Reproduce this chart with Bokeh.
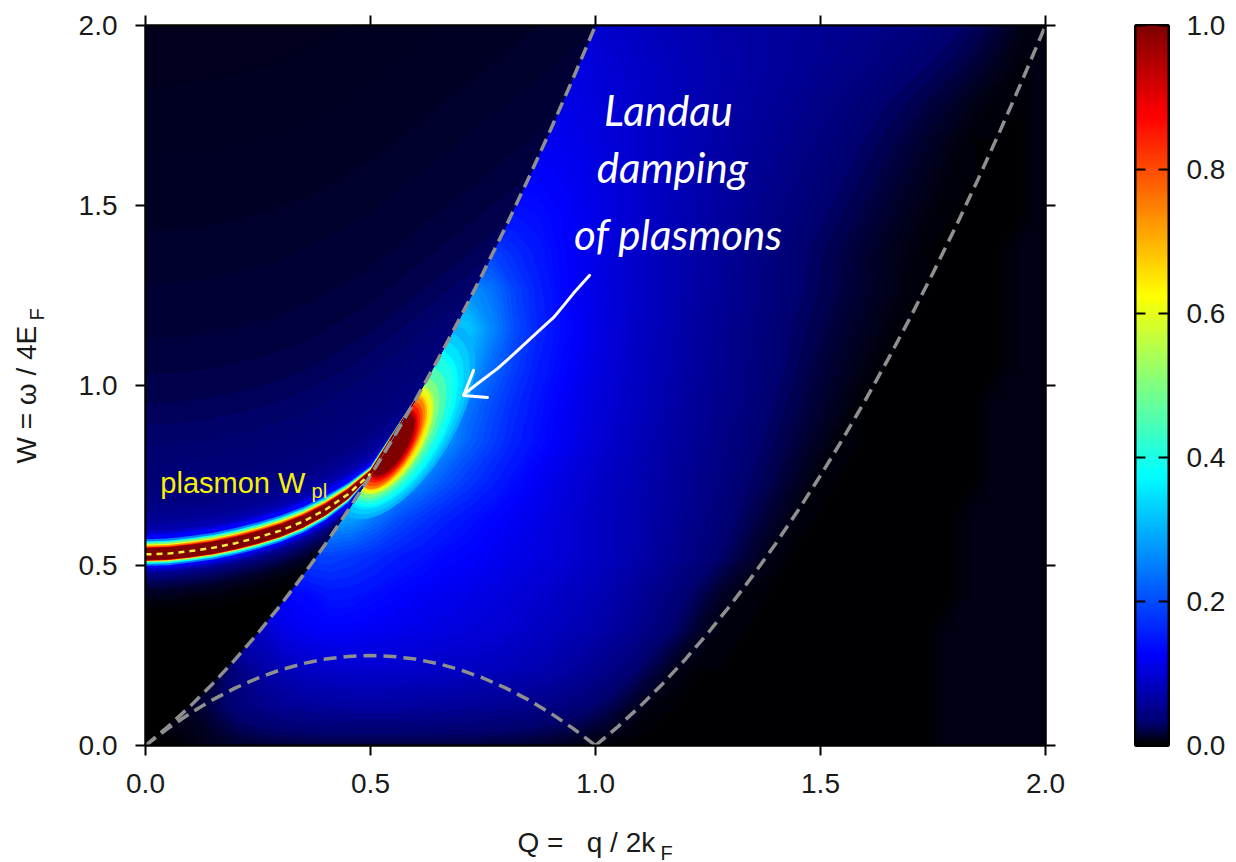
import numpy as np
from bokeh.plotting import figure
from bokeh.layouts import row, column
from bokeh.models import Range1d, LinearAxis, LinearColorMapper, Label, FixedTicker, NumeralTickFormatter
from bokeh.core.properties import value
from bokeh.embed import file_html
from bokeh.resources import INLINE

# ---- values -------------------------------------------------------------
# heat map: 40 columns (Q 0..2), 20 rows (W 0..2, bottom row first), in 1/1000 of the scale
heat_rows = [
 [0,0,4,8,12,14,15,16,16,16,16,16,16,16,16,15,14,12,9,5,2,1,1,1,2]+[2]*10+[6]*5,
 [10,10,10,22,36,46,53,57,59,60,60,60,59,57,55,53,50,46,40,33,23,11,3,2,2]+[2]*10+[6]*5,
 [15,15,15,15,42,64,78,86,91,93,93,91,90,87,84,81,77,72,65,56,46,34,19,6,2]+[2]*10+[6]*5,
 [85]*6+[108,118,121,120,116,112,108,104,100,96,91,85,79,72,63,52,39,26,11,3,2,2,2,2]+[2]*5+[6]*5,
 [125]*7+[130,145,142,134,126,120,115,110,105,99,93,87,80,72,61,49,36,23,10,3,2,2,2]+[2]*6+[6]*4,
 [190]*9+[180,165,150,140,130,125,118,110,105,98,90,82,72,62,50,40,28,16,6,2,2]+[2]*6+[6]*4,
 [290]*9+[280,240,200,175,155,140,128,118,110,100,90,82,74,64,55,45,35,24,14,5,2]+[2]*6+[6]*4,
 [360]*11+[300,250,210,180,155,135,118,106,95,85,77,67,58,48,40,30,22,12,4]+[2]*7+[6]*3,
 [400]*12+[330,270,220,185,155,135,118,104,92,82,71,61,52,43,35,26,18,10,3]+[2]*6+[6]*3,
 [400]*13+[300,240,200,165,140,122,108,96,86,75,65,55,47,40,30,22,15,8,2]+[2]*5+[6]*3,
 [360]*14+[290,230,185,150,130,113,100,88,78,68,58,50,42,34,26,18,12,6,2]+[2]*5+[6]*2,
 [320]*15+[260,200,160,135,117,102,90,80,70,60,52,44,36,28,22,15,10,5,2]+[2]*4+[6]*2,
 [270]*15+[240,190,155,130,115,102,92,82,72,63,55,47,39,32,25,19,13,8,4,2]+[2]*3+[6]*2,
 [190]*16+[165,145,128,115,104,92,82,72,64,56,48,40,33,26,20,14,9,5,2]+[2]*3+[6]*2,
 [140]*17+[135,125,115,105,95,85,76,68,60,52,45,38,31,25,19,13,8,4]+[2]*4+[6],
 [125]*18+[120,112,103,95,86,78,70,63,56,49,42,36,30,24,18,12,7,3]+[2]*3+[6],
 [115]*19+[108,100,93,86,79,72,65,59,53,47,41,35,29,23,17,11,6]+[2]*3+[6],
 [110]*19+[105,98,92,85,79,73,67,62,57,52,46,41,35,29,24,18,12,6,3,2,6],
 [105]*20+[95,90,84,78,73,68,64,60,56,52,47,43,38,33,28,22,15,8,3,6],
 [100]*20+[90,86,80,75,71,66,63,60,57,54,51,48,44,40,36,31,24,15,6,4],
]

# the three dashed boundary curves, read at steps of Q = 0.05
q_upper = [0,.05,.1,.15,.2,.25,.3,.35,.4,.45,.5,.55,.6,.65,.7,.75,.8,.85,.9,.95,1]
w_upper = [0,.0525,.11,.1725,.24,.3125,.39,.4725,.56,.6525,.75,.8525,.96,1.0725,1.19,1.3125,1.44,1.5725,1.71,1.8525,2]
w_lower = [0,.0475,.09,.1275,.16,.1875,.21,.2275,.24,.2475,.25,.2475,.24,.2275,.21,.1875,.16,.1275,.09,.0475,0]
q_right = [1,1.05,1.1,1.15,1.2,1.25,1.3,1.35,1.4,1.45,1.5,1.55,1.6,1.65,1.7,1.75,1.8,1.85,1.9,1.95,2]
w_right = [0,.0525,.11,.1725,.24,.3125,.39,.4725,.56,.6525,.75,.8525,.96,1.0725,1.19,1.3125,1.44,1.5725,1.71,1.8525,2]

# plasmon ridge and its relative width along Q
q_plasmon = [0,.05,.1,.15,.2,.25,.3,.35,.4,.45,.5,.55,.6]
w_plasmon = [.531,.533,.54,.549,.562,.578,.597,.622,.655,.698,.755,.86,.965]
t_plasmon = [1,1,1,1,1,1,1,.97,.9,.75,.5,.25,0]
# contours of the dim area left of the upper curve
w_dim_base = [.531,.533,.54,.549,.562,.578,.597,.622,.655,.69,.73,.78,.83,.88,.93,.98,1.03,1.08,1.13,1.18,1.23]
dim_above = [0,.055,.065,.08,.09,.1,.12,.14,.17,.2,.25,.3,.36,.42,.5,.6,.75,.9,1.1,1.3]
val_above = [.125,.09,.07,.06,.055,.05,.045,.04,.037,.034,.031,.028,.024,.02,.017,.014,.012,.01,.009,.008]
dim_below = [.17,.15,.13,.115,.10,.09,.08,.072,.065,.058,.05,.045,.04]
val_below = [.001,.003,.006,.01,.015,.02,.025,.03,.038,.05,.07,.09,.11]
# ridge profile: distance above, distance below, level
rid_above = [.047,.042,.036,.032,.027,.024,.02,.0175]
rid_below = [.036,.032,.027,.023,.0195,.0185,.018,.0165]
rid_value = [.125,.25,.375,.5,.625,.75,.875,1.0]
# hot spot where the plasmon enters the continuum
spot_level = [.3,.325,.35,.375,.4,.45,.5,.55,.6,.65,.7,.75,.8,.85,.9,.95,1.0]
spot_major = [220,205,190,176,168,152,136,124,120,112,108,104,96,88,80,76,70]
spot_minor = [100,94,88,82,76,68,60,56,54,50,46,42,40,37,34,30,28]
spot_q = [.575,.573,.57,.567,.565,.56,.556,.553,.552,.551,.55,.55,.549,.549,.549,.549,.549]
spot_w = [.90,.895,.89,.88,.875,.865,.855,.85,.848,.845,.843,.84,.838,.838,.836,.836,.836]
spot_angle = 59

# hand-drawn arrow
arrow_q = [.987,.969,.951,.929,.907,.882,.856,.82,.782,.744,.707]
arrow_w = [1.306,1.281,1.256,1.222,1.189,1.161,1.131,1.089,1.047,1.011,.975]
head_q = [.729,.707,.76]
head_w = [1.042,.972,.967]

ticks_main = [0, .5, 1, 1.5, 2]
ticks_bar = [0, .2, .4, .6, .8, 1]
bar_stops = [0, .03, .125, .375, .625, .875, 1]
bar_r = [0, 0, 0, 0, 255, 255, 128]
bar_g = [0, 0, 0, 255, 255, 0, 0]
bar_b = [0, 112, 255, 255, 0, 0, 0]
# colour steps of the filled heat map
heat_levels = [-.001,.002,.004,.006,.008,.01,.012,.014,.016,.018,.02,.024,.028,.032,.036,.04,.044,.048,.052,.056,
               .06,.064,.068,.072,.076,.08,.084,.088,.092,.096,.1,.104,.108,.112,.116,.12,.125,.13,.135,.14,.15,.16,
               .17,.18,.19,.2,.21,.22,.23,.24,.25,.26,.27,.28,.29,.3,.31,.32,.33,.34,.35,.36,.37,.38,.39,.4,.41]
# -------------------------------------------------------------------------

FONT = "Liberation Sans"
INK = "#1a1a1a"
def col(v):
    r = np.interp(v, bar_stops, bar_r); g = np.interp(v, bar_stops, bar_g); b = np.interp(v, bar_stops, bar_b)
    return "#%02x%02x%02x" % (int(round(r)), int(round(g)), int(round(b)))

palette = [col(i / 255) for i in range(256)]
mapper = LinearColorMapper(palette=palette, low=0, high=1)

def style(ax, font_px, standoff, tick_out, tick_in, labelled=True, ticks=ticks_main):
    ax.ticker = FixedTicker(ticks=ticks)
    ax.formatter = NumeralTickFormatter(format="0.0")
    ax.major_tick_out = tick_out
    ax.major_tick_in = tick_in
    ax.minor_tick_out = 0
    ax.minor_tick_in = 0
    ax.major_tick_line_width = 2
    ax.major_tick_line_color = "black"
    ax.axis_line_width = 2
    ax.axis_line_color = "black"
    ax.major_label_standoff = standoff
    ax.major_label_text_font = FONT
    if labelled:
        ax.major_label_text_font_size = font_px
        ax.major_label_text_color = INK
    else:
        ax.major_label_text_font_size = "0px"
        ax.major_label_text_color = None
    return ax

def strip(width, height):
    s = figure(frame_width=width, frame_height=height, x_range=Range1d(0, width), y_range=Range1d(0, height),
               toolbar_location=None, output_backend="svg", x_axis_location=None, y_axis_location=None,
               min_border_left=0, min_border_right=0, min_border_top=0, min_border_bottom=0)
    s.grid.visible = False
    s.outline_line_color = None
    return s

p = figure(width=1008, height=815, x_range=Range1d(0, 2), y_range=Range1d(0, 2),
           toolbar_location=None, output_backend="svg", x_axis_location=None, y_axis_location=None,
           min_border_left=85, min_border_right=23, min_border_top=25, min_border_bottom=70)
p.grid.visible = False
p.outline_line_color = "black"
p.outline_line_width = 2
p.add_layout(style(LinearAxis(), "28px", 18, 10, 0), "below")
p.add_layout(style(LinearAxis(), "28px", 18, 10, 0), "left")
p.add_layout(style(LinearAxis(), "28px", 0, 10, 0, labelled=False), "above")
p.add_layout(style(LinearAxis(), "28px", 0, 10, 0, labelled=False), "right")

heat = np.array(heat_rows, dtype=float) / 1000.0
p.image(image=[heat], x=0, y=0, dw=2, dh=2, color_mapper=mapper)
hx = np.linspace(0, 2, heat.shape[1]); hy = np.linspace(0, 2, heat.shape[0])
fills = [col((heat_levels[i] + heat_levels[i + 1]) / 2) for i in range(len(heat_levels) - 1)]
p.contour(hx, hy, heat, levels=heat_levels, fill_color=fills)

# hot spot, lowest level first
p.ellipse(x=spot_q, y=spot_w, width=spot_major, height=spot_minor,
          width_units="screen", height_units="screen", angle=spot_angle, angle_units="deg",
          fill_color=[col(v) for v in spot_level], line_color=None)

# area left of the upper curve
qu = np.array(q_upper); wu = np.array(w_upper)
top = np.full_like(wu, 2.0)
p.varea(x=qu, y1=wu, y2=top, fill_color="#000000")
for d, v in zip(dim_above, val_above):
    p.varea(x=qu, y1=np.maximum(np.array(w_dim_base) + d, wu), y2=top, fill_color=col(v))
qp = np.array(q_plasmon); wp = np.array(w_plasmon); tp = np.array(t_plasmon)
wu_p = wu[:len(qp)]
for d, v in zip(dim_below, val_below):
    m = qp <= .5
    p.varea(x=qp[m], y1=np.maximum(wp[m] - d, wu_p[m]), y2=np.maximum(wp[m], wu_p[m]), fill_color=col(v))
for da, dl, v in zip(rid_above, rid_below, rid_value):
    p.varea(x=qp, y1=np.maximum(wp - dl * tp, wu_p), y2=np.maximum(wp + da * tp, wu_p), fill_color=col(v))

# boundaries
for xs, ys in ((q_upper, w_upper), (q_upper, w_lower), (q_right, w_right)):
    p.line(xs, ys, line_color="#8f8f8f", line_width=3.5, line_dash="13 7")
m = qp <= .5
p.line(qp[m], wp[m], line_color="#f4f040", line_width=2.5, line_dash="6 5")

# arrow
p.line(arrow_q, arrow_w, line_color="white", line_width=3, line_cap="round", line_join="round")
p.line(head_q, head_w, line_color="white", line_width=3, line_cap="round", line_join="round")

def lab(fig, text, x, y, size, color=INK, angle=0, font=FONT, style_="normal", align="left"):
    fig.add_layout(Label(x=x, y=y, text=text, text_font=font, text_font_size=size, text_color=color,
                         angle=angle, angle_units="deg", text_align=align,
                         text_baseline="alphabetic", text_font_style=style_))

lab(p, "Landau", 1.162, 1.764, "42px", "white", font="Lato", style_="italic", align="center")
lab(p, "damping", 1.171, 1.606, "42px", "white", font="Lato", style_="italic", align="center")
lab(p, "of plasmons", 1.184, 1.422, "42px", "white", font="Lato", style_="italic", align="center")
lab(p, "plasmon W", .033, .73, "29px", "#f8f000")
lab(p, "pl", .369, .708, "20px", "#f8f000")

# axis titles live in narrow strips beside the plot; layouts align strip frames with the plot frame
bottom = strip(923, 47)   # frame at page x 145..1068
bottom.text(x=[517 - 145], y=[20], text=["Q =\u00a0\u00a0\u00a0q / 2k"], text_font=value(FONT),
            text_font_size="28px", text_color=INK, text_baseline="alphabetic", text_align="left")
bottom.text(x=[660 - 145], y=[10], text=["F"], text_font=value(FONT),
            text_font_size="20px", text_color=INK, text_baseline="alphabetic", text_align="left")
left = strip(60, 837)      # frame at page x 0..60, y 25..862
left.text(x=[26], y=[862 - 463], text=["W = \u03c9 / 4E"], angle=[np.pi / 2], text_font=value(FONT),
          text_font_size="28px", text_color=INK, text_baseline="alphabetic", text_align="left")
left.text(x=[36], y=[862 - 320], text=["F"], angle=[np.pi / 2], text_font=value(FONT),
          text_font_size="20px", text_color=INK, text_baseline="alphabetic", text_align="left")

# colour scale
cb = figure(width=160, height=862, x_range=Range1d(0, 1), y_range=Range1d(0, 1),
            toolbar_location=None, output_backend="svg", x_axis_location=None, y_axis_location=None,
            min_border_left=67, min_border_right=56, min_border_top=25, min_border_bottom=117)
cb.grid.visible = False
cb.outline_line_color = "black"
cb.outline_line_width = 3
bar = np.linspace(0, 1, 256).reshape(256, 1)
cb.image(image=[bar], x=0, y=0, dw=1, dh=1, color_mapper=mapper)
cb.add_layout(style(LinearAxis(), "28px", 18, 0, 10, ticks=ticks_bar), "right")
cb.add_layout(style(LinearAxis(), "28px", 0, 0, 10, labelled=False, ticks=ticks_bar), "left")

open("out.html", "w").write(file_html(row(left, column(p, bottom), cb), INLINE))
